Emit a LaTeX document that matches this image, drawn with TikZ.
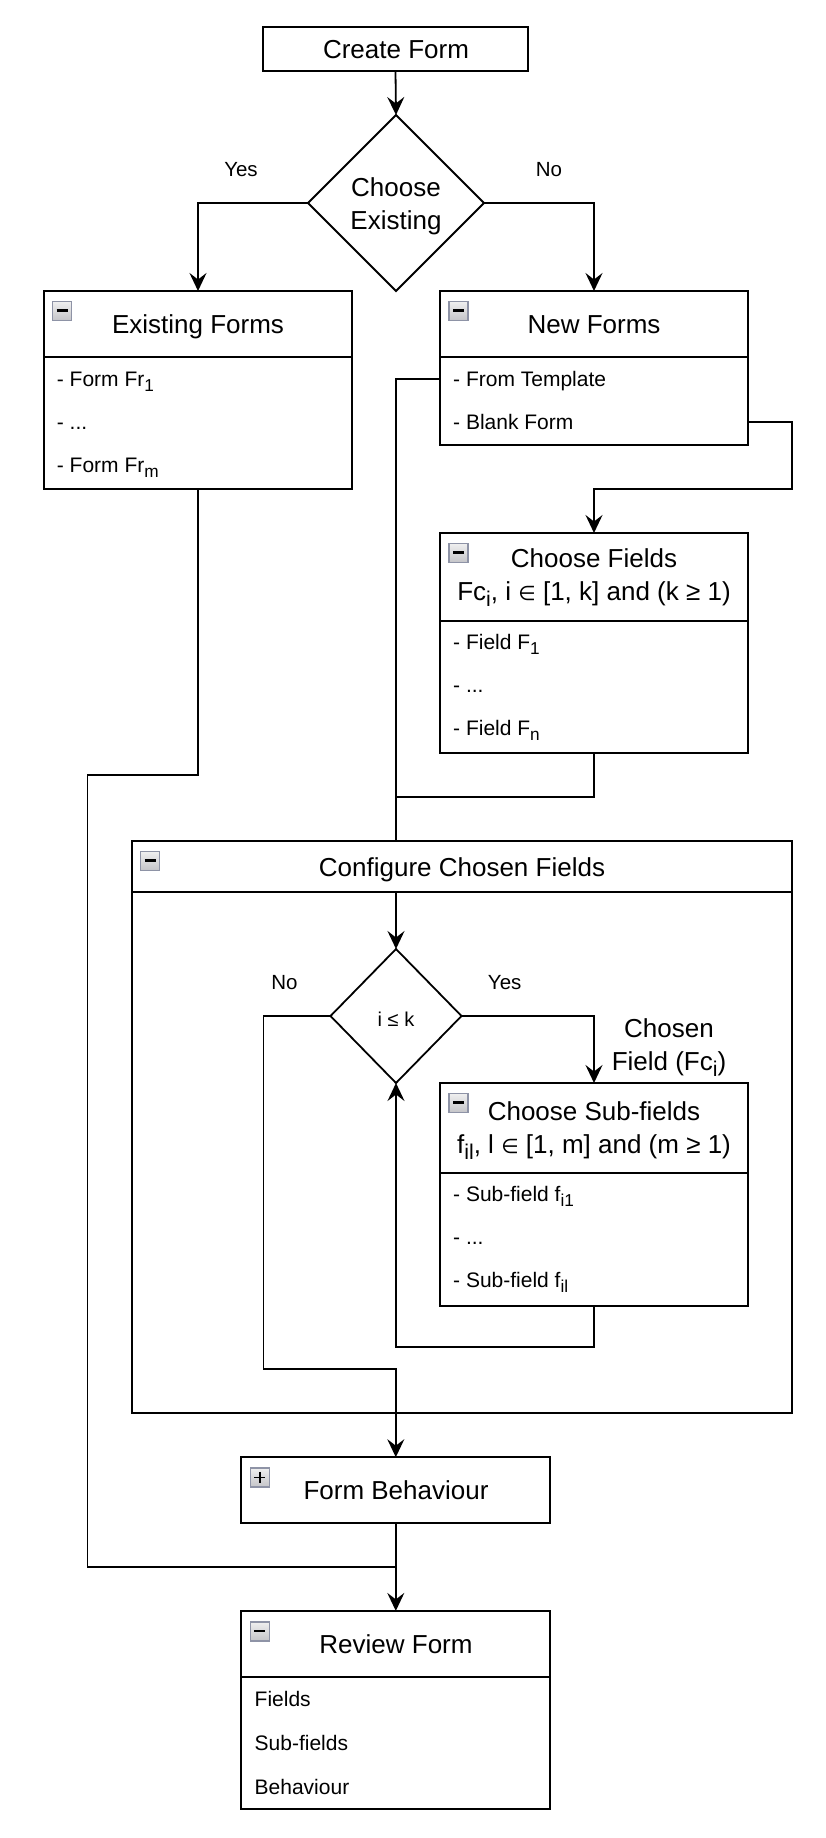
\documentclass[tikz,border=0pt]{standalone}
\usepackage{fontspec}
\usepackage{graphicx}
\setmainfont{Liberation Sans}
\newfontfamily\symfont{DejaVu Sans}
\usetikzlibrary{shapes.geometric,arrows.meta}
\definecolor{icontop}{HTML}{EFEFEF}
\definecolor{iconbot}{HTML}{C4C4C8}
\definecolor{iconborder}{HTML}{8E93A6}
\newcommand{\elem}{{\symfont\fontsize{20}{20}\selectfont ∈}}
\newcommand{\sbs}[1]{\raisebox{-0.24em}{\scalebox{0.82}{#1}}}
\tikzset{
  ln/.style={line width=1.8pt, line join=miter},
  arr/.style={ln, -{Stealth[length=18pt,width=17pt,inset=6.5pt]}},
  boxnode/.style={draw, line width=1.8pt, anchor=north west, inner sep=0pt, outer sep=0pt},
  dia/.style={draw, diamond, line width=1.8pt, inner sep=0pt, outer sep=0pt},
  ttl/.style={font=\fontsize{26}{33}\selectfont, inner sep=0pt, anchor=base},
  itm/.style={font=\fontsize{21}{25}\selectfont, inner sep=0pt, anchor=base west},
  lbl/.style={font=\fontsize{20.5}{25}\selectfont, inner sep=0pt, anchor=base},
  pics/minusicon/.style={code={
    \shade[top color=icontop, bottom color=iconbot] (0,0) rectangle (19,19);
    \draw[iconborder, line width=1.1pt] (0,0) rectangle (19,19);
    \draw[line width=2.4pt] (4,9) -- (15,9);
  }},
  pics/plusicon/.style={code={
    \shade[top color=icontop, bottom color=iconbot] (0,0) rectangle (19,19);
    \draw[iconborder, line width=1.1pt] (0,0) rectangle (19,19);
    \draw[line width=1.8pt] (4,9.5) -- (15,9.5) (9.5,4) -- (9.5,15);
  }},
}
\begin{document}
\begin{tikzpicture}[x=1pt,y=-1pt]
\path[use as bounding box, fill=white] (0,0) rectangle (826,1838);

% ---------- boxes ----------
\node[boxnode, minimum width=265pt, minimum height=44pt] (create) at (263,27) {};
\node[dia, minimum width=176pt, minimum height=176pt] (d1) at (396,203) {};
\node[boxnode, minimum width=308.6pt, minimum height=198pt] (exist) at (43.7,291) {};
\node[boxnode, minimum width=308pt, minimum height=154pt] (new) at (440,291) {};
\node[boxnode, minimum width=308pt, minimum height=220pt] (fields) at (440,533) {};
\node[boxnode, minimum width=660.3pt, minimum height=571.6pt] (config) at (131.7,841) {};
\node[dia, minimum width=131pt, minimum height=134pt] (d2) at (396,1016) {};
\node[boxnode, minimum width=308pt, minimum height=223pt] (sub) at (440,1083) {};
\node[boxnode, minimum width=309pt, minimum height=66pt] (behav) at (241.3,1457.2) {};
\node[boxnode, minimum width=309pt, minimum height=198pt] (review) at (241.3,1610.9) {};

% header separators
\coordinate (exH) at (43.7,357);
\coordinate (nwH) at (440,357);
\coordinate (fdH) at (440,621);
\coordinate (cfH) at (131.7,892);
\coordinate (sbH) at (440,1173);
\coordinate (rvH) at (241.3,1676.8);
\draw[ln] (exH) -- (exH -| exist.east);
\draw[ln] (nwH) -- (nwH -| new.east);
\draw[ln] (fdH) -- (fdH -| fields.east);
\draw[ln] (cfH) -- (cfH -| config.east);
\draw[ln] (sbH) -- (sbH -| sub.east);
\draw[ln] (rvH) -- (rvH -| review.east);

% icons
\pic at (52.7,301.5) {minusicon};
\pic at (449,301.5) {minusicon};
\pic at (449,543.5) {minusicon};
\pic at (140.7,851.5) {minusicon};
\pic at (449,1093.5) {minusicon};
\pic at (250.3,1468) {plusicon};
\pic at (250.3,1622) {minusicon};

% ---------- texts ----------
\node[ttl] (tCreate) at (396,58.3) {Create Form};
\node[ttl] (tCE1) at (396,196.5) {Choose};
\node[ttl] (tCE2) at (396,229.5) {Existing};
\node[lbl] (lYes1) at (241,176.7) {Yes};
\node[lbl] (lNo1) at (549,176.7) {No};

\node[ttl] (tExist) at (198,333.5) {Existing Forms};
\node[itm] (e1) at (56.7,386) {- Form Fr\sbs{1}};
\node[itm] (e2) at (56.7,429.3) {- ...};
\node[itm] (e3) at (56.7,472.6) {- Form Fr\sbs{m}};

\node[ttl] (tNew) at (594,333.5) {New Forms};
\node[itm] (n1) at (453,386) {- From Template};
\node[itm] (n2) at (453,429.3) {- Blank Form};

\node[ttl] (tFields1) at (594,567.3) {Choose Fields};
\node[ttl] (tFields2) at (594,600) {Fc\sbs{i}, i \elem{} [1, k] and (k ≥ 1)};
\node[itm] (f1) at (453,649.3) {- Field F\sbs{1}};
\node[itm] (f2) at (453,692.6) {- ...};
\node[itm] (f3) at (453,735.9) {- Field F\sbs{n}};

\node[ttl] (tConfig) at (462,876.5) {Configure Chosen Fields};
\node[lbl, font=\fontsize{20}{24}\selectfont] (tD2) at (396,1026.7) {i ≤ k};
\node[lbl] (lNo2) at (284.5,989) {No};
\node[lbl] (lYes2) at (504.7,989) {Yes};
\node[ttl] (tChosen1) at (669,1037.5) {Chosen};
\node[ttl] (tChosen2) at (669,1070) {Field (Fc\sbs{i})};

\node[ttl] (tSub1) at (594,1120) {Choose Sub-fields};
\node[ttl] (tSub2) at (594,1153) {f\sbs{il}, l \elem{} [1, m] and (m ≥ 1)};
\node[itm] (s1) at (453,1201.3) {- Sub-field f\sbs{i1}};
\node[itm] (s2) at (453,1244.6) {- ...};
\node[itm] (s3) at (453,1287.9) {- Sub-field f\sbs{il}};

\node[ttl] (tBehav) at (396,1499) {Form Behaviour};
\node[ttl] (tReview) at (396,1653.5) {Review Form};
\node[itm] (r1) at (254.5,1706) {Fields};
\node[itm] (r2) at (254.5,1750) {Sub-fields};
\node[itm] (r3) at (254.5,1794) {Behaviour};

% ---------- connector waypoints ----------
\coordinate (rowTpl) at (600,378.7);
\coordinate (rowBlank) at (600,422);
\coordinate (mergeA) at (396,797);
\coordinate (leftA) at (87.5,775);
\coordinate (mergeB) at (396,1566.6);
\coordinate (loopB) at (396,1347);
\coordinate (noA) at (263.4,1368.6);

% ---------- connectors ----------
\draw[arr] (create.south) -- (d1.north);
\draw[arr] (d1.west) -| (exist.north);
\draw[arr] (d1.east) -| (new.north);
\draw[arr] (new.east |- rowBlank) -| (config.east |- exist.south) -| (fields.north);
\draw[ln] (new.west |- rowTpl) -| (d1.south |- config.north);
\draw[ln] (fields.south) |- (mergeA);
\draw[ln] (exist.south) |- (leftA) |- (mergeB);
\draw[arr] (d2.north |- cfH) -- (d2.north);
\draw[arr] (d2.east) -| (sub.north);
\draw[arr] (sub.south) |- (loopB) -- (d2.south);
\draw[arr] (d2.west) -| (noA) -| (behav.north);
\draw[arr] (behav.south) -- (review.north);
\end{tikzpicture}
\end{document}
